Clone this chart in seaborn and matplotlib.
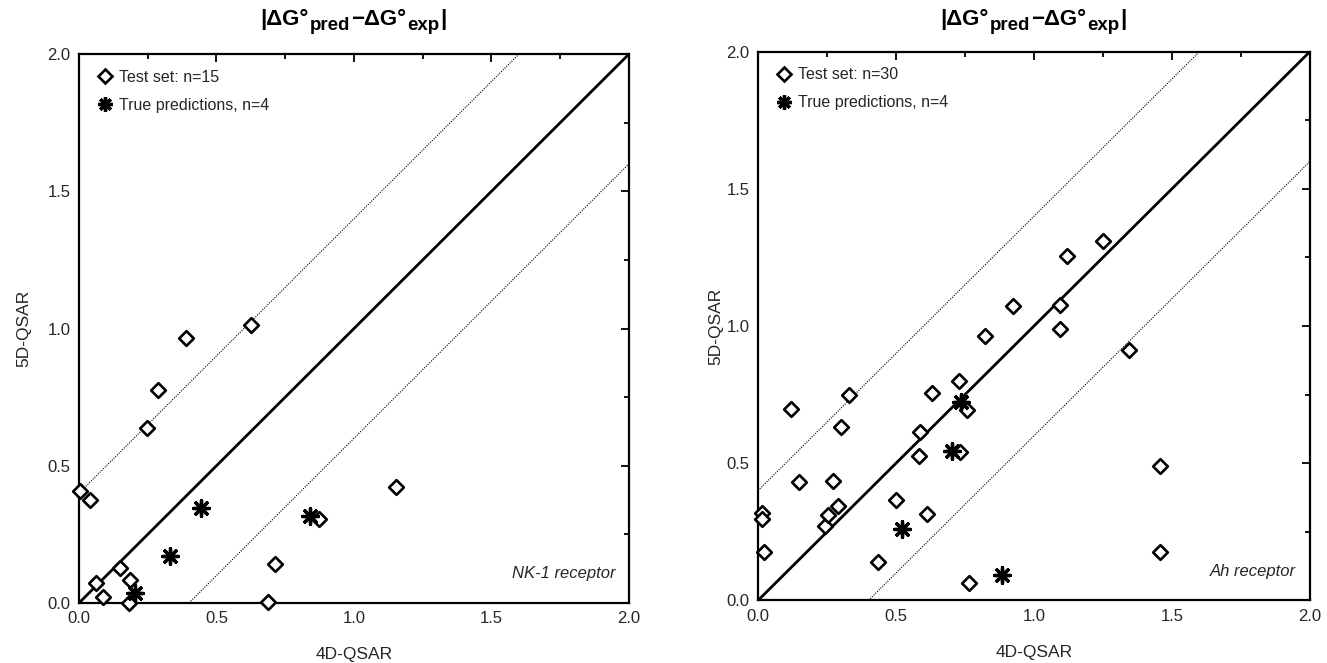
import matplotlib
matplotlib.use('Agg')
import matplotlib.pyplot as plt
import seaborn as sns
import pandas as pd
from matplotlib.ticker import MultipleLocator, FormatStrFormatter
from matplotlib.lines import Line2D

# ---- data ----
nk1_test_x = [0.005, 0.041, 0.063, 0.087, 0.148, 0.184, 0.182, 0.247, 0.287, 0.388,
              0.627, 0.687, 0.714, 0.873, 1.154]
nk1_test_y = [0.408, 0.375, 0.072, 0.021, 0.126, 0.084, 0.000, 0.639, 0.776, 0.966,
              1.013, 0.005, 0.142, 0.305, 0.424]
nk1_true_x = [0.203, 0.330, 0.445, 0.841]
nk1_true_y = [0.038, 0.171, 0.347, 0.317]

ah_test_x = [0.015, 0.015, 0.020, 0.121, 0.147, 0.242, 0.254, 0.272, 0.290, 0.302,
             0.330, 0.435, 0.501, 0.582, 0.587, 0.612, 0.632, 0.728, 0.733, 0.757,
             0.765, 0.822, 0.924, 1.093, 1.096, 1.120, 1.250, 1.344, 1.455, 1.455]
ah_test_y = [0.319, 0.298, 0.176, 0.699, 0.432, 0.271, 0.313, 0.436, 0.343, 0.632,
             0.747, 0.141, 0.365, 0.527, 0.614, 0.315, 0.757, 0.799, 0.541, 0.693,
             0.063, 0.963, 1.072, 1.076, 0.990, 1.255, 1.310, 0.911, 0.489, 0.177]
ah_true_x = [0.520, 0.703, 0.737, 0.885]
ah_true_y = [0.259, 0.545, 0.723, 0.093]

legend_test = ["Test set: n=15", "Test set: n=30"]
legend_true = ["True predictions, n=4", "True predictions, n=4"]
receptor_labels = ["NK-1 receptor", "Ah receptor"]
diag_offsets = [0.0, 0.4, -0.4]
tick_values = [0.0, 0.5, 1.0, 1.5, 2.0]
x_label = "4D-QSAR"
y_label = "5D-QSAR"
# title pieces: (text, is_subscript)
title_parts = [("|\u0394G\u00b0", False), ("pred", True), ("\u2212\u0394G\u00b0", False),
               ("exp", True), ("|", False)]

sns.set_theme(style='white')
plt.rcParams['font.family'] = ['Liberation Sans', 'DejaVu Sans']

W, H = 1327, 663
fig = plt.figure(figsize=(W / 100, H / 100), dpi=100)
fig.patch.set_facecolor('white')
ax1 = fig.add_axes([0.0595, 0.0905, 0.4145, 0.828])
ax2 = fig.add_axes([0.5712, 0.0943, 0.4160, 0.828])

panels = [
    (ax1, nk1_test_x, nk1_test_y, nk1_true_x, nk1_true_y, 0),
    (ax2, ah_test_x, ah_test_y, ah_true_x, ah_true_y, 1),
]

star = (8, 2, 0)

for ax, tx, ty, sx, sy, i in panels:
    for off in diag_offsets:
        if off == 0:
            ax.axline((0, off), slope=1, color='black', lw=2.0, zorder=2)
        else:
            ax.axline((0, off), slope=1, color='black', lw=0.8,
                      linestyle=(0, (1, 1.2)), zorder=2)
    df_t = pd.DataFrame({'x': tx, 'y': ty})
    df_s = pd.DataFrame({'x': sx, 'y': sy})
    sns.scatterplot(data=df_t, x='x', y='y', ax=ax, marker='D', s=56,
                    facecolor='white', edgecolor='black', linewidth=1.9,
                    zorder=4, clip_on=False)
    sns.scatterplot(data=df_s, x='x', y='y', ax=ax, marker=star, s=125,
                    color='black', edgecolor='black', linewidth=2.4,
                    zorder=5, clip_on=False)
    ax.set_xlim(0, 2)
    ax.set_ylim(0, 2)
    ax.set_xticks(tick_values)
    ax.set_yticks(tick_values)
    ax.xaxis.set_minor_locator(MultipleLocator(0.25))
    ax.yaxis.set_minor_locator(MultipleLocator(0.25))
    ax.xaxis.set_major_formatter(FormatStrFormatter('%.1f'))
    ax.yaxis.set_major_formatter(FormatStrFormatter('%.1f'))
    ax.tick_params(which='both', direction='in', top=True, right=True,
                   color='black', width=1.3)
    ax.tick_params(which='major', length=5.5, labelsize=12, pad=6)
    ax.tick_params(which='minor', length=3.5)
    for sp in ax.spines.values():
        sp.set_color('black')
        sp.set_linewidth(1.6)
    ax.set_xlabel(x_label, fontsize=12.5, labelpad=15)
    ax.set_ylabel(y_label, fontsize=12.5, labelpad=12 if i == 0 else 2)
    ax.text(0.975, 0.04, receptor_labels[i], transform=ax.transAxes,
            ha='right', va='bottom', style='italic', fontsize=12)
    handles = [
        Line2D([], [], marker='D', ls='', mfc='white', mec='black', mew=1.9,
               ms=7.0, label=legend_test[i]),
        Line2D([], [], marker=star, ls='', color='black', mec='black', mew=2.4,
               ms=10.5, label=legend_true[i]),
    ]
    ax.legend(handles=handles, loc='upper left', bbox_to_anchor=(0.0, 1.0),
              frameon=False, fontsize=11.5, handletextpad=0.3,
              labelspacing=0.8, borderaxespad=0.6, handlelength=1.2)

# ---- titles built from pieces (larger subscripts than mathtext allows) ----
fig.canvas.draw()
renderer = fig.canvas.get_renderer()
main_size, sub_size = 16, 13.5
base_y = H - 25
for ax in (ax1, ax2):
    bb = ax.get_position()
    cx = (bb.x0 + bb.x1) / 2 * W
    arts, xpos = [], 0.0
    for txt, is_sub in title_parts:
        size = sub_size if is_sub else main_size
        yy = base_y - (5 if is_sub else 0)
        t = fig.text(xpos / W, yy / H, txt, fontsize=size, fontweight='bold',
                     ha='left', va='baseline', color='black')
        w = t.get_window_extent(renderer).width
        arts.append(t)
        xpos += w + 1
    shift = cx - xpos / 2
    for t in arts:
        x0, y0 = t.get_position()
        t.set_position((x0 + shift / W, y0))

fig.savefig('out.png', dpi=100, facecolor='white')
